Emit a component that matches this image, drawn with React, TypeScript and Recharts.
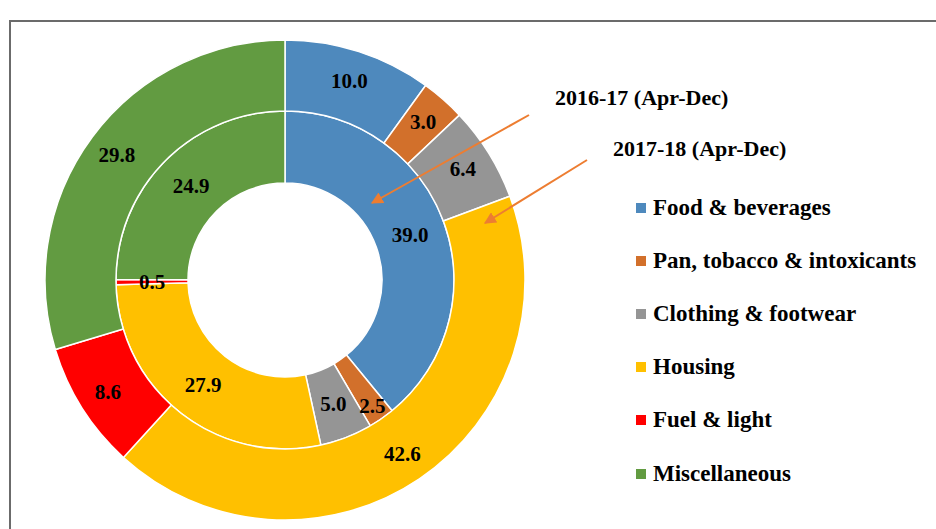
import { Pie, PieChart } from 'recharts'

const categories = [
  'Food & beverages',
  'Pan, tobacco & intoxicants',
  'Clothing & footwear',
  'Housing',
  'Fuel & light',
  'Miscellaneous',
]
const colors = ['#4E89BD', '#D2702B', '#959595', '#FFC000', '#FF0000', '#629B41']
const share201617 = [39.0, 2.5, 5.0, 27.9, 0.5, 24.9]
const share201718 = [10.0, 3.0, 6.4, 42.6, 8.6, 29.8]

const innerData = categories.map((name, i) => ({
  name,
  value: share201617[i],
  fill: colors[i],
}))
const outerData = categories.map((name, i) => ({
  name,
  value: share201718[i],
  fill: colors[i],
}))

const FONT = "'Times New Roman', Times, Tinos, serif"
const RAD = Math.PI / 180

// thin inner slices (1-3%) get their label pushed outward a bit, like the original
const renderLabel = (shift: number, nudgeThin: boolean) => (props: any) => {
  const { cx, cy, midAngle, innerRadius, outerRadius, value } = props
  let r = (innerRadius + outerRadius) / 2 + shift
  if (nudgeThin && value > 1 && value < 3) r += 20
  const x = cx + r * Math.cos(-midAngle * RAD)
  const y = cy + r * Math.sin(-midAngle * RAD)
  return (
    <text
      x={x}
      y={y}
      textAnchor="middle"
      dominantBaseline="central"
      fill="#000"
      fontFamily={FONT}
      fontWeight="bold"
      fontSize={21}
    >
      {value.toFixed(1)}
    </text>
  )
}

const Legend = () => (
  <div style={{ position: 'absolute', left: 636, top: 181 }}>
    {categories.map((c, i) => (
      <div
        key={c}
        style={{
          display: 'flex',
          alignItems: 'center',
          height: 53.2,
          fontFamily: FONT,
          fontWeight: 'bold',
          fontSize: 23,
          color: '#000',
          whiteSpace: 'nowrap',
        }}
      >
        <span
          style={{
            width: 10,
            height: 10,
            background: colors[i],
            marginRight: 7,
            display: 'inline-block',
          }}
        />
        {c}
      </div>
    ))}
  </div>
)

export default function App() {
  return (
    <div
      style={{
        position: 'absolute',
        left: 0,
        top: 0,
        width: 936,
        height: 529,
        overflow: 'hidden',
        background: '#fff',
      }}
    >
      <div
        style={{
          position: 'absolute',
          left: 9,
          top: 20,
          width: 940,
          height: 540,
          borderLeft: '2px solid #6b6b6b',
          borderTop: '2px solid #6b6b6b',
        }}
      />
      <div style={{ position: 'absolute', left: 0, top: 0 }}>
        <PieChart width={936} height={529} margin={{ top: 0, right: 0, bottom: 0, left: 0 }}>
          <Pie
            data={innerData}
            dataKey="value"
            cx={285}
            cy={280}
            innerRadius={97}
            outerRadius={169}
            startAngle={90}
            endAngle={-270}
            stroke="#fff"
            strokeWidth={1.5}
            label={renderLabel(0, true)}
            labelLine={false}
            isAnimationActive={false}
          />
          <Pie
            data={outerData}
            dataKey="value"
            cx={285}
            cy={280}
            innerRadius={169}
            outerRadius={240}
            startAngle={90}
            endAngle={-270}
            stroke="#fff"
            strokeWidth={1.5}
            label={renderLabel(5, false)}
            labelLine={false}
            isAnimationActive={false}
          />
        </PieChart>
      </div>
      <svg
        width={936}
        height={529}
        style={{ position: 'absolute', left: 0, top: 0, pointerEvents: 'none' }}
      >
        <defs>
          <marker
            id="arr"
            viewBox="0 0 10 10"
            refX="9"
            refY="5"
            markerWidth="6"
            markerHeight="6"
            orient="auto"
          >
            <path d="M0,0 L10,5 L0,10 z" fill="#ED7D31" />
          </marker>
        </defs>
        <line x1={529} y1={115} x2={372} y2={203} stroke="#ED7D31" strokeWidth={2} markerEnd="url(#arr)" />
        <line x1={587} y1={160} x2={485} y2={223} stroke="#ED7D31" strokeWidth={2} markerEnd="url(#arr)" />
        <text x={555} y={105} fontFamily={FONT} fontWeight="bold" fontSize={22} fill="#000">
          2016-17 (Apr-Dec)
        </text>
        <text x={613} y={156} fontFamily={FONT} fontWeight="bold" fontSize={22} fill="#000">
          2017-18 (Apr-Dec)
        </text>
      </svg>
      <Legend />
    </div>
  )
}
